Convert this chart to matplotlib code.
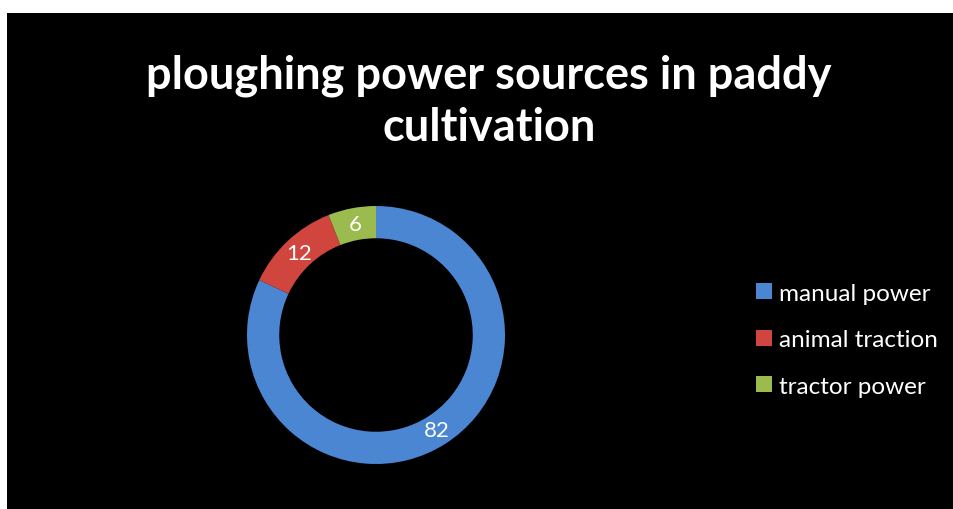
import matplotlib.pyplot as plt
from matplotlib.patches import Rectangle

labels = ['manual power', 'animal traction', 'tractor power']
values = [82, 12, 6]
colors = ['#4a86d2', '#d0463f', '#9bbb4f']

plt.rcParams['font.family'] = ['Lato', 'DejaVu Sans']

W, H = 954, 510
fig = plt.figure(figsize=(W / 100, H / 100), dpi=100, facecolor='white')
# black chart area
fig.patches.append(Rectangle((7 / W, 0), 1 - 7 / W, 1 - 14 / H, transform=fig.transFigure,
                             facecolor='black', edgecolor='none', zorder=-5))

cx, cy, r = 376, H - 336, 129
ax = fig.add_axes([(cx - r) / W, (cy - r) / H, 2 * r / W, 2 * r / H])
ax.set_zorder(2)
ax.set_facecolor('none')
wedges, texts = ax.pie(values, colors=colors, startangle=90, counterclock=False,
                       radius=1, wedgeprops=dict(width=0.25, edgecolor='none'),
                       labels=[str(v) for v in values], labeldistance=0.875,
                       textprops=dict(color='white', fontsize=16))
for t in texts:
    t.set_ha('center')
    t.set_va('center')
ax.set_xlim(-1, 1)
ax.set_ylim(-1, 1)
ax.set_aspect('equal')
ax.axis('off')

fig.text(489 / W, 1 - 102 / H, 'ploughing power sources in paddy\ncultivation', ha='center', va='center',
         color='white', fontsize=32.5, fontweight='bold', linespacing=1.3)

leg = fig.legend(wedges, labels, loc='upper left', bbox_to_anchor=(734 / W, 1 - 262 / H),
                 frameon=False, fontsize=17.5, labelcolor='white', handlelength=0.65,
                 handleheight=0.65, handletextpad=0.3, labelspacing=1.05)

fig.savefig('out.png', dpi=100, facecolor='white')
